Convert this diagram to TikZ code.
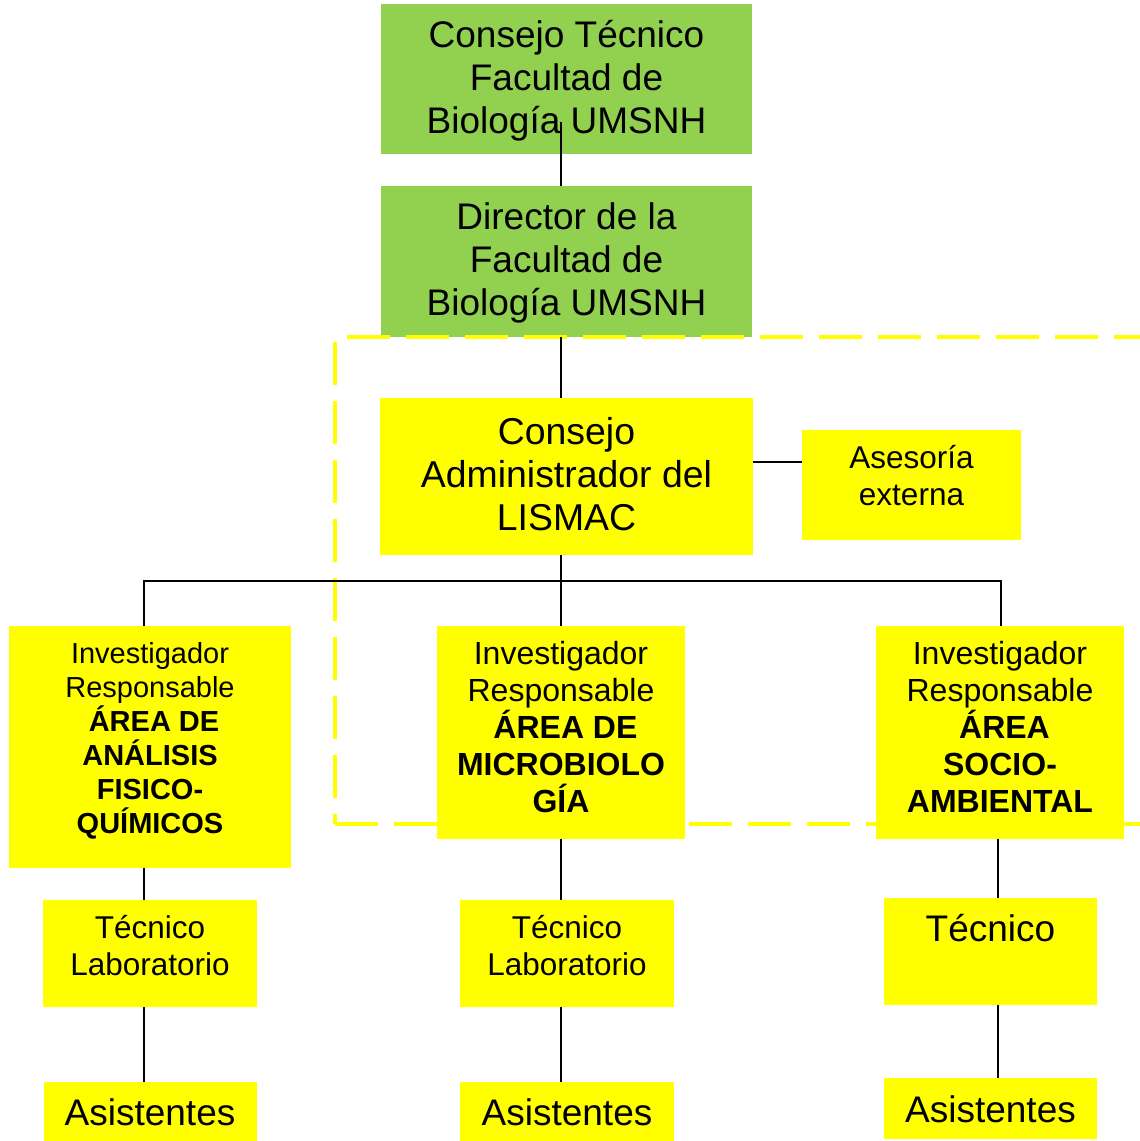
\documentclass[tikz,border=0pt]{standalone}
\usepackage{fontspec}
\setmainfont{Liberation Sans}
\usetikzlibrary{calc}
\definecolor{boxgreen}{RGB}{146,208,80}
\definecolor{boxyellow}{RGB}{255,255,0}
\pgfdeclarelayer{whitelayer}
\pgfdeclarelayer{greenlayer}
\pgfdeclarelayer{dashlayer}
\pgfsetlayers{whitelayer,greenlayer,dashlayer,main}
\tikzset{
  gbox/.style={rectangle, fill=boxgreen, inner sep=0pt, outer sep=0pt, anchor=north west},
  ybox/.style={rectangle, fill=boxyellow, inner sep=0pt, outer sep=0pt, anchor=north west},
  txt/.style={align=center, inner sep=0pt, outer sep=0pt, anchor=center},
  conn/.style={draw=black, line width=1.8pt},
  frame/.style={draw=boxyellow, line width=4.5pt, line cap=butt, dash pattern=on 43pt off 16pt}
}
\begin{document}
\begin{tikzpicture}[x=1pt, y=-1pt]
\begin{pgfonlayer}{whitelayer}
\fill[white] (0,0) rectangle (1140,1141);
\end{pgfonlayer}
\useasboundingbox (0,0) rectangle (1140,1141);
% column coordinates
\coordinate (cA) at (144,0);
\coordinate (cB) at (561,0);
\coordinate (cCt) at (1001,0);
\coordinate (cCb) at (998,0);
\coordinate (bus) at (561,581);
\coordinate (cy) at (0,462);

\begin{pgfonlayer}{greenlayer}
\node[gbox, minimum width=371pt, minimum height=150pt] (b1) at (381,4) {};
\node[gbox, minimum width=371pt, minimum height=151pt] (b2) at (381,186) {};
\node[txt, font=\fontsize{37}{43}\selectfont] (b1t) at (566.5,80.5) {Consejo Técnico\\Facultad de\\Biología UMSNH};
\node[txt, font=\fontsize{37}{43}\selectfont] (b2t) at (566.5,262.5) {Director de la\\Facultad de\\Biología UMSNH};
\end{pgfonlayer}

\begin{pgfonlayer}{dashlayer}
\draw[frame, dash phase=54pt] (335,337) -- (335,824);
\draw[frame, dash phase=47pt] (335,337) -- (1142,337);
\draw[frame, dash phase=0pt] (335,824) -- (1142,824);
\end{pgfonlayer}

% yellow boxes
\node[ybox, minimum width=373pt, minimum height=157pt] (ca) at (380,398) {};
\node[ybox, minimum width=219pt, minimum height=110pt] (as) at (802,430) {};
\node[ybox, minimum width=282pt, minimum height=242pt] (i1) at (9,626) {};
\node[ybox, minimum width=248pt, minimum height=213pt] (i2) at (437,626) {};
\node[ybox, minimum width=248pt, minimum height=213pt] (i3) at (876,626) {};
\node[ybox, minimum width=214pt, minimum height=107pt] (t1) at (43,900) {};
\node[ybox, minimum width=214pt, minimum height=107pt] (t2) at (460,900) {};
\node[ybox, minimum width=213pt, minimum height=107pt] (t3) at (884,898) {};
\node[ybox, minimum width=213pt, minimum height=59pt] (a1) at (44,1082) {};
\node[ybox, minimum width=214pt, minimum height=59pt] (a2) at (460,1082) {};
\node[ybox, minimum width=213pt, minimum height=61pt] (a3) at (884,1078) {};

% texts
\node[txt, font=\fontsize{37.4}{43}\selectfont] (cat) at (566.5,474.5) {Consejo\\Administrador del\\LISMAC};
\node[txt, font=\fontsize{31.5}{37}\selectfont] (ast) at (911.5,475.5) {Asesoría\\externa};
\node[txt, font=\fontsize{29}{34}\selectfont] (i1t) at (150,740.5) {Investigador\\Responsable\\\textbf{\hspace*{.28em}ÁREA DE}\\\textbf{ANÁLISIS}\\\textbf{FISICO-}\\\textbf{QUÍMICOS}};
\node[txt, font=\fontsize{32}{37}\selectfont] (i2t) at (561,727) {Investigador\\Responsable\\\textbf{\hspace*{.28em}ÁREA DE}\\\textbf{MICROBIOLO}\\\textbf{GÍA}};
\node[txt, font=\fontsize{32}{37}\selectfont] (i3t) at (1000,727) {Investigador\\Responsable\\\textbf{\hspace*{.28em}ÁREA}\\\textbf{SOCIO-}\\\textbf{AMBIENTAL}};
\node[txt, font=\fontsize{31.5}{37}\selectfont] (t1t) at (150,945.5) {Técnico\\Laboratorio};
\node[txt, font=\fontsize{31.5}{37}\selectfont] (t2t) at (567,945.5) {Técnico\\Laboratorio};
\node[txt, font=\fontsize{37}{43}\selectfont] (t3t) at (990.5,928) {Técnico};
\node[txt, font=\fontsize{37}{43}\selectfont] (a1t) at (150,1112) {Asistentes};
\node[txt, font=\fontsize{37}{43}\selectfont] (a2t) at (567,1112) {Asistentes};
\node[txt, font=\fontsize{37}{43}\selectfont] (a3t) at (990.5,1109) {Asistentes};

% connectors
\draw[conn] ($(b1.south -| cB)+(0,-32)$) -- (b2.north -| cB);
\draw[conn] (b2.south -| cB) -- (ca.north -| cB);
\draw[conn] (ca.east |- cy) -- (as.west |- cy);
\draw[conn] (ca.south -| cB) -- (bus);
\draw[conn] (i1.north -| cA) -- (cA |- bus) -- (cCt |- bus) -- (i3.north -| cCt);
\draw[conn] (bus) -- (i2.north -| cB);
\draw[conn] (i1.south -| cA) -- (t1.north -| cA);
\draw[conn] (t1.south -| cA) -- (a1.north -| cA);
\draw[conn] (i2.south -| cB) -- (t2.north -| cB);
\draw[conn] (t2.south -| cB) -- (a2.north -| cB);
\draw[conn] (i3.south -| cCb) -- (t3.north -| cCb);
\draw[conn] (t3.south -| cCb) -- (a3.north -| cCb);
\end{tikzpicture}
\end{document}
